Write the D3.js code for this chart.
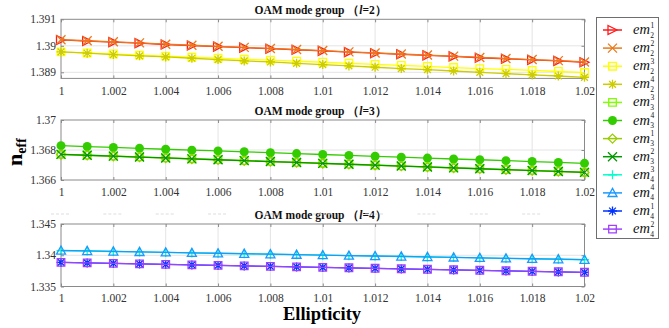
<!DOCTYPE html>
<html>
<head>
<meta charset="utf-8">
<script src="https://cdn.jsdelivr.net/npm/d3@7"></script>
<style>
  body { margin: 0; background: #fff; }
  svg { display: block; font-family: "Liberation Serif", "Times New Roman", serif; }
</style>
</head>
<body>
<svg id="chart" width="669" height="328"></svg>
<script>
// ellipticity values (x)
const ellipticity = [1, 1.001, 1.002, 1.003, 1.004, 1.005, 1.006, 1.007, 1.008, 1.009, 1.01,
  1.011, 1.012, 1.013, 1.014, 1.015, 1.016, 1.017, 1.018, 1.019, 1.02];
const xTicks = [1, 1.002, 1.004, 1.006, 1.008, 1.01, 1.012, 1.014, 1.016, 1.018, 1.02];

// l = 2
const em2_1 = [1.39022, 1.39018, 1.39014, 1.39010, 1.39005, 1.39001, 1.38997, 1.38993, 1.38989, 1.38985, 1.38981,
  1.38976, 1.38972, 1.38968, 1.38964, 1.38960, 1.38955, 1.38951, 1.38947, 1.38943, 1.38938];
const em2_2 = [1.39023, 1.39019, 1.39015, 1.39011, 1.39006, 1.39002, 1.38998, 1.38994, 1.38990, 1.38986, 1.38982,
  1.38977, 1.38973, 1.38969, 1.38965, 1.38961, 1.38956, 1.38952, 1.38948, 1.38944, 1.38939];
const em2_3 = [1.38977, 1.38973, 1.38969, 1.38965, 1.38961, 1.38957, 1.38953, 1.38949, 1.38946, 1.38942, 1.38938,
  1.38934, 1.38930, 1.38926, 1.38922, 1.38918, 1.38914, 1.38911, 1.38907, 1.38903, 1.38899];
const em2_4 = [1.38977, 1.38972, 1.38967, 1.38962, 1.38958, 1.38953, 1.38948, 1.38943, 1.38939, 1.38934, 1.38929,
  1.38924, 1.38919, 1.38914, 1.38910, 1.38905, 1.38900, 1.38895, 1.38890, 1.38886, 1.38881];

// l = 3
const em3_3 = [1.36772, 1.36766, 1.36760, 1.36754, 1.36748, 1.36742, 1.36736, 1.36730, 1.36724, 1.36718, 1.36712,
  1.36706, 1.36700, 1.36694, 1.36688, 1.36682, 1.36676, 1.36670, 1.36664, 1.36658, 1.36652];
const em3_4 = [1.36829, 1.36823, 1.36817, 1.36811, 1.36805, 1.36799, 1.36794, 1.36788, 1.36782, 1.36776, 1.36770,
  1.36764, 1.36758, 1.36752, 1.36746, 1.36740, 1.36735, 1.36729, 1.36723, 1.36717, 1.36711];
const em3_1 = [1.36770, 1.36764, 1.36758, 1.36752, 1.36746, 1.36740, 1.36734, 1.36728, 1.36722, 1.36716, 1.36710,
  1.36704, 1.36698, 1.36692, 1.36686, 1.36680, 1.36674, 1.36668, 1.36662, 1.36656, 1.36650];
const em3_2 = [1.36771, 1.36765, 1.36759, 1.36753, 1.36747, 1.36741, 1.36735, 1.36729, 1.36723, 1.36717, 1.36711,
  1.36705, 1.36699, 1.36693, 1.36687, 1.36681, 1.36675, 1.36669, 1.36663, 1.36657, 1.36651];

// l = 4
const em4_3 = [1.34075, 1.34068, 1.34060, 1.34053, 1.34046, 1.34038, 1.34031, 1.34024, 1.34016, 1.34009, 1.34002,
  1.33994, 1.33987, 1.33980, 1.33972, 1.33965, 1.33958, 1.33950, 1.33943, 1.33936, 1.33928];
const em4_4 = [1.34076, 1.34069, 1.34061, 1.34054, 1.34047, 1.34039, 1.34032, 1.34025, 1.34017, 1.34010, 1.34003,
  1.33995, 1.33988, 1.33981, 1.33973, 1.33966, 1.33959, 1.33951, 1.33944, 1.33937, 1.33929];
const em4_1 = [1.33885, 1.33877, 1.33869, 1.33861, 1.33853, 1.33845, 1.33837, 1.33829, 1.33821, 1.33813, 1.33805,
  1.33798, 1.33790, 1.33782, 1.33774, 1.33766, 1.33758, 1.33750, 1.33742, 1.33734, 1.33726];
const em4_2 = [1.33886, 1.33878, 1.33870, 1.33862, 1.33854, 1.33846, 1.33838, 1.33830, 1.33822, 1.33814, 1.33806,
  1.33799, 1.33791, 1.33783, 1.33775, 1.33767, 1.33759, 1.33751, 1.33743, 1.33735, 1.33727];

const yTicks2 = [1.389, 1.39, 1.391];
const yTicks3 = [1.366, 1.368, 1.37];
const yTicks4 = [1.335, 1.34, 1.345];

// series: name parts, values, colour, marker
const series = [
  { sub: 2, sup: 1, values: em2_1, color: "#ff1a1a", marker: "triRight", panel: 0 },
  { sub: 2, sup: 2, values: em2_2, color: "#ea7a1a", marker: "cross", panel: 0 },
  { sub: 2, sup: 3, values: em2_3, color: "#ffff00", marker: "square", panel: 0 },
  { sub: 2, sup: 4, values: em2_4, color: "#cccc00", marker: "asterisk", panel: 0 },
  { sub: 3, sup: 3, values: em3_3, color: "#80ff00", marker: "square", panel: 1 },
  { sub: 3, sup: 4, values: em3_4, color: "#33cc00", marker: "circle", panel: 1 },
  { sub: 3, sup: 1, values: em3_1, color: "#99cc00", marker: "diamond", panel: 1 },
  { sub: 3, sup: 2, values: em3_2, color: "#009900", marker: "cross", panel: 1 },
  { sub: 4, sup: 3, values: em4_3, color: "#00ffcc", marker: "plus", panel: 2 },
  { sub: 4, sup: 4, values: em4_4, color: "#1a99ff", marker: "triUp", panel: 2 },
  { sub: 4, sup: 1, values: em4_1, color: "#0033ff", marker: "asterisk", panel: 2 },
  { sub: 4, sup: 2, values: em4_2, color: "#a040ff", marker: "square", panel: 2 }
];

const serif = "'Liberation Serif', 'Times New Roman', serif";
const fmt = d => d3.format(".3~f")(d);

const panels = [
  { l: 2, top: 19.3, bottom: 78.4, domain: [1.38877, 1.391], ticks: yTicks2, titleY: 14, pad: 8 },
  { l: 3, top: 120, bottom: 180, domain: [1.366, 1.37], ticks: yTicks3, titleY: 115, pad: 8 },
  { l: 4, top: 224, bottom: 286.5, domain: [1.335, 1.345], ticks: yTicks4, titleY: 219, pad: 7 }
];

const left = 61, right = 584.5;
const svg = d3.select("#chart");
const x = d3.scaleLinear().domain([1, 1.02]).range([left, right]);

function markerPath(type, s) {
  switch (type) {
    case "triRight": return `M${-s},${-s}L${s},0L${-s},${s}Z`;
    case "triUp": return `M0,${-s}L${s},${s * 0.8}L${-s},${s * 0.8}Z`;
    case "cross": return `M${-s},${-s}L${s},${s}M${-s},${s}L${s},${-s}`;
    case "plus": return `M${-s},0L${s},0M0,${-s}L0,${s}`;
    case "square": return `M${-s},${-s}H${s}V${s}H${-s}Z`;
    case "diamond": return `M0,${-s}L${s},0L0,${s}L${-s},0Z`;
    case "asterisk": {
      const d = s * 0.75;
      return `M${-s},0L${s},0M0,${-s}L0,${s}M${-d},${-d}L${d},${d}M${-d},${d}L${d},${-d}`;
    }
    default: return "";
  }
}

function drawMarker(g, type, color, cx, cy) {
  if (type === "circle") {
    g.append("circle").attr("cx", cx).attr("cy", cy).attr("r", 4.5).attr("fill", color);
  } else {
    const s = type === "square" ? 3.8 : 4.5;
    g.append("path").attr("d", markerPath(type, s))
      .attr("transform", `translate(${cx},${cy})`)
      .attr("fill", "none").attr("stroke", color).attr("stroke-width", 1.3);
  }
}

panels.forEach((p, pi) => {
  const y = d3.scaleLinear().domain(p.domain).range([p.bottom, p.top]);
  const g = svg.append("g");

  // grid
  g.selectAll(".vg").data(xTicks.slice(1, -1)).enter().append("line")
    .attr("x1", d => x(d)).attr("x2", d => x(d))
    .attr("y1", p.top).attr("y2", p.bottom)
    .attr("stroke", "#e4e4e4").attr("stroke-width", 1);
  g.selectAll(".hg").data(p.ticks.filter(t => y(t) > p.top + 1 && y(t) < p.bottom - 1)).enter().append("line")
    .attr("x1", left).attr("x2", right)
    .attr("y1", d => y(d)).attr("y2", d => y(d))
    .attr("stroke", "#e4e4e4").attr("stroke-width", 1);

  // axes (ticks inward, box)
  const xa = g.append("g").attr("transform", `translate(0,${p.bottom})`)
    .call(d3.axisBottom(x).tickValues(xTicks).tickSizeInner(-3).tickSizeOuter(0).tickPadding(p.pad)
      .tickFormat(fmt));
  const ya = g.append("g").attr("transform", `translate(${left},0)`)
    .call(d3.axisLeft(y).tickValues(p.ticks).tickSizeInner(-3).tickSizeOuter(0).tickPadding(5)
      .tickFormat(fmt));
  g.append("g").attr("transform", `translate(0,${p.top})`)
    .call(d3.axisTop(x).tickValues(xTicks).tickSizeInner(-3).tickSizeOuter(0).tickFormat(""));
  g.append("g").attr("transform", `translate(${right},0)`)
    .call(d3.axisRight(y).tickValues(p.ticks).tickSizeInner(-3).tickSizeOuter(0).tickFormat(""));
  g.selectAll(".domain").remove();
  g.selectAll(".tick line").attr("stroke", "#8a8a8a");
  [xa, ya].forEach(a => {
    a.attr("font-family", serif).attr("font-size", 11.5);
    a.selectAll("text").attr("fill", "#333");
  });
  g.append("rect").attr("x", left).attr("y", p.top)
    .attr("width", right - left).attr("height", p.bottom - p.top)
    .attr("fill", "none").attr("stroke", "#8a8a8a").attr("stroke-width", 1);

  // title
  const t = g.append("text").attr("x", (left + right) / 2 - 2).attr("y", p.titleY)
    .attr("text-anchor", "middle").attr("font-weight", "bold").attr("font-size", 11.5)
    .attr("font-family", serif).attr("fill", "#111");
  t.append("tspan").text("OAM mode group （");
  t.append("tspan").attr("font-style", "italic").text("l");
  t.append("tspan").text(`=${p.l}）`);

  // series
  const line = d3.line().x((d, i) => x(ellipticity[i])).y(d => y(d));
  series.filter(s => s.panel === pi).forEach(s => {
    const sg = g.append("g");
    sg.append("path").datum(s.values).attr("d", line)
      .attr("fill", "none").attr("stroke", s.color).attr("stroke-width", 1.3);
    s.values.forEach((v, i) => drawMarker(sg, s.marker, s.color, x(ellipticity[i]), y(v)));
  });
});

// faint ghost marks above the third title
svg.append("g").selectAll("line").data(xTicks.slice(0, -1)).enter().append("line")
  .attr("x1", d => x(d) - 10).attr("x2", d => x(d) + 10)
  .attr("y1", 214).attr("y2", 214)
  .attr("stroke", "#dddddd").attr("stroke-dasharray", "3,2");

// axis labels
svg.append("text").attr("x", 322).attr("y", 320).attr("text-anchor", "middle")
  .attr("font-family", serif).attr("font-weight", "bold").attr("font-size", 18.5).text("Ellipticity");
const yl = svg.append("text").attr("transform", "translate(22,152) rotate(-90)")
  .attr("text-anchor", "middle").attr("font-family", serif).attr("font-weight", "bold");
yl.append("tspan").attr("font-size", 22).text("n");
yl.append("tspan").attr("font-size", 14).attr("dy", 4).text("eff");

// legend
const lg = svg.append("g").attr("font-family", serif);
lg.append("rect").attr("x", 596.5).attr("y", 17.5).attr("width", 62).attr("height", 221)
  .attr("fill", "#fff").attr("stroke", "#6e6e6e").attr("stroke-width", 1);
series.forEach((s, i) => {
  const ly = 30 + i * 18.1;
  lg.append("line").attr("x1", 603).attr("x2", 622).attr("y1", ly).attr("y2", ly)
    .attr("stroke", s.color).attr("stroke-width", 1.5);
  drawMarker(lg, s.marker, s.color, 612.5, ly);
  // one text per entry: em, superscript stacked over subscript
  const tx = lg.append("text").attr("x", 633).attr("y", ly + 4).attr("fill", "#111");
  tx.append("tspan").attr("font-style", "italic").attr("font-size", 14.5).text("em");
  tx.append("tspan").attr("font-size", 7.5).attr("dx", 0.5).attr("dy", -6.5).text(s.sup);
  tx.append("tspan").attr("font-size", 7.5).attr("dx", -3.8).attr("dy", 10).text(s.sub);
});
</script>
</body>
</html>
